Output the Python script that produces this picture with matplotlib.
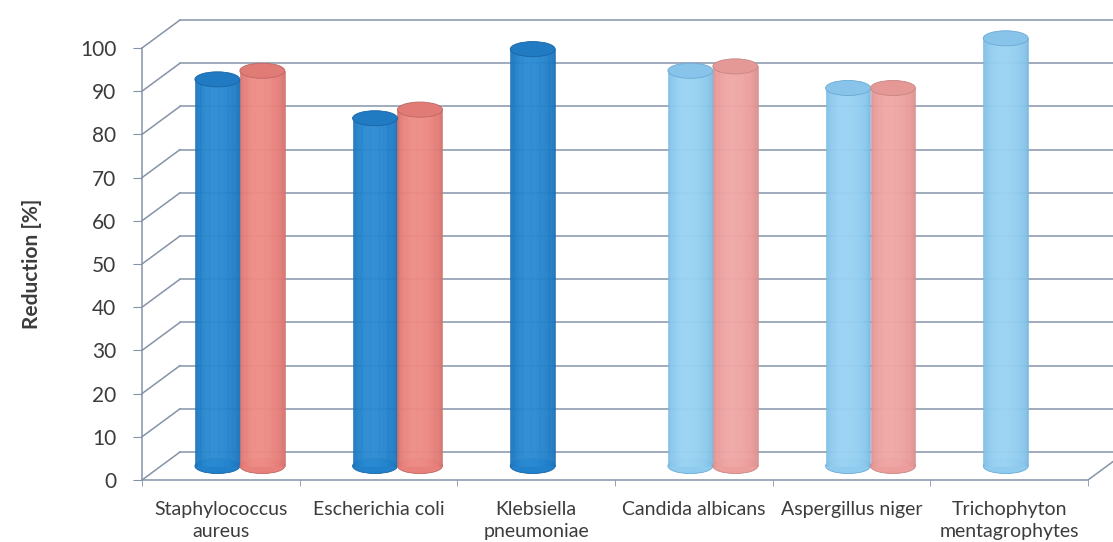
import numpy as np
import matplotlib
matplotlib.use('Agg')
import matplotlib.pyplot as plt
from matplotlib import transforms
from matplotlib.patches import Ellipse
from matplotlib.colors import to_rgb

plt.rcParams['font.family'] = ['Lato', 'DejaVu Sans']

categories = ['Staphylococcus\naureus', 'Escherichia coli', 'Klebsiella\npneumoniae',
              'Candida albicans', 'Aspergillus niger', 'Trichophyton\nmentagrophytes']
first = [89.5, 80.5, 96.5, 91.5, 87.5, 99.0]
second = [91.5, 82.5, None, 92.5, 87.5, None]
kind = ['bacteria', 'bacteria', 'bacteria', 'fungi', 'fungi', 'fungi']
yticks = list(range(0, 101, 10))

# (edge, body, highlight) per series and organism group
palette = {
    'bacteria': [('#1a64a6', '#2181ca', '#2b8ad2'), ('#bf6561', '#e8817b', '#ee8d87')],
    'fungi': [('#6aa9d6', '#8fcbee', '#9ad3f3'), ('#c98584', '#eb9e9c', '#efa8a6')],
}
grid = '#8593a8'
txt = '#3c3c3c'

W, H = 1113, 542
fig = plt.figure(figsize=(W / 100, H / 100), dpi=100)
ax = fig.add_axes([142 / W, 62 / H, (1088 - 142) / W, 432 / H])
ax.set_xlim(-0.5, 5.5)
ax.set_ylim(0, 100)
ax.set_facecolor('none')

# depth planes of the 3d box
back = transforms.offset_copy(ax.transData, fig=fig, x=38, y=28, units='dots')
mid = transforms.offset_copy(ax.transData, fig=fig, x=19, y=14, units='dots')

for v in yticks:
    ax.plot([-0.5, 5.5], [v, v], transform=back, color=grid, lw=1.1,
            clip_on=False, zorder=1)
    ax.annotate('', xy=(-0.5, v), xycoords=back, xytext=(-0.5, v), textcoords='data',
                arrowprops=dict(arrowstyle='-', color=grid, lw=1.1, shrinkA=0, shrinkB=0),
                annotation_clip=False, zorder=1)
ax.annotate('', xy=(5.5, 0), xycoords=back, xytext=(5.5, 0), textcoords='data',
            arrowprops=dict(arrowstyle='-', color=grid, lw=1.1, shrinkA=0, shrinkB=0),
            annotation_clip=False, zorder=1)


def shade(cols, n):
    edge, body, hi = [np.array(to_rgb(c)) for c in cols]
    t = (np.arange(n) + 0.5) / n
    f = np.where(t < 0.4, 1 - ((0.4 - t) / 0.4) ** 2, 1 - ((t - 0.4) / 0.6) ** 2)
    f = np.clip(f, 0, 1) ** 0.3
    out = []
    for k in f:
        if k < 0.85:
            c = edge + (body - edge) * (k / 0.85)
        else:
            c = body + (hi - body) * ((k - 0.85) / 0.15)
        out.append(tuple(c))
    return out


bw = 0.285
eh = 3.5
n = 40
for i in range(len(categories)):
    for j, val in enumerate([first[i], second[i]]):
        if val is None:
            continue
        cols = palette[kind[i]][j]
        xc = i + (j - 0.5) * bw
        edge, body, hi = cols
        ax.add_patch(Ellipse((xc, 0), bw, eh, facecolor=body, edgecolor=edge, lw=0.6,
                             transform=mid, clip_on=False, zorder=3))
        xs = xc - bw / 2 + (np.arange(n) + 0.5) * bw / n
        sc = shade(cols, n)
        ax.bar(xs, [val] * n, width=bw / n, color=sc, edgecolor=sc, linewidth=0.4,
               transform=mid, clip_on=False, zorder=3)
        topc = 0.8 * np.array(to_rgb(body)) + 0.2 * np.array(to_rgb(edge))
        ax.add_patch(Ellipse((xc, val), bw, eh, facecolor=tuple(topc), edgecolor=edge,
                             lw=0.6, transform=mid, clip_on=False, zorder=4))

for s in ['top', 'right']:
    ax.spines[s].set_visible(False)
for s in ['left', 'bottom']:
    ax.spines[s].set_color(grid)
    ax.spines[s].set_linewidth(1.1)

ax.set_yticks(yticks)
ax.tick_params(axis='y', length=6.5, color=grid, labelsize=15, labelcolor=txt, pad=12)
ax.set_xticks(range(len(categories)))
ax.set_xticklabels(categories, linespacing=1.4)
ax.set_xticks(np.arange(-0.5, 6, 1), minor=True)
ax.tick_params(axis='x', which='major', length=0, labelsize=14, labelcolor=txt, pad=15)
ax.tick_params(axis='x', which='minor', length=4, color=grid)
ax.set_ylabel('Reduction [%]', fontsize=15, fontweight='bold', color=txt, labelpad=27)

fig.savefig('out.png', dpi=100)
